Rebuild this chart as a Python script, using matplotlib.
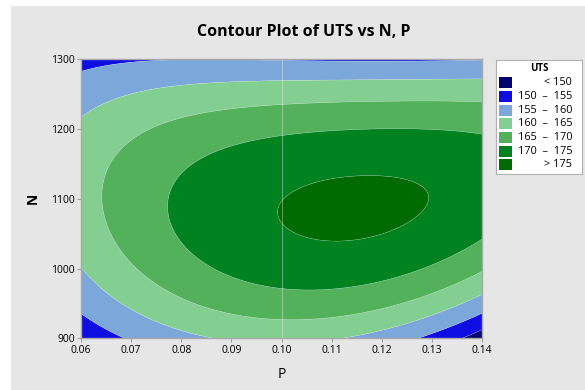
import numpy as np
import matplotlib
matplotlib.use("Agg")
import matplotlib.pyplot as plt
from matplotlib.patches import Rectangle

# Fitted response surface, in coded units
# u = (P - 0.10) / 0.04, v = (N - 1100) / 200
# UTS = height(u) - curvature(u) * (v - center(u))**2, each a polynomial in u (c0, c1, c2)
ridge_height = [175.1, 5.0, -7.0]
ridge_curvature = [17.0, 5.6, -0.65]
ridge_center = [-0.095, 0.021, 0.161]

levels = [150, 155, 160, 165, 170, 175]
legend_labels = ["< 150", "150  \u2013  155", "155  \u2013  160", "160  \u2013  165",
                 "165  \u2013  170", "170  \u2013  175", "> 175"]
colors = ["#04046e", "#0e0ee2", "#7ba7da", "#82cf91", "#53b15c", "#018221", "#006b00"]
p_ticks = [0.06, 0.07, 0.08, 0.09, 0.10, 0.11, 0.12, 0.13, 0.14]
n_ticks = [900, 1000, 1100, 1200, 1300]


def poly(c, u):
    return c[0] + c[1] * u + c[2] * u * u


P = np.linspace(0.06, 0.14, 400)
N = np.linspace(900, 1300, 400)
PP, NN = np.meshgrid(P, N)
U = (PP - 0.10) / 0.04
V = (NN - 1100) / 200
Z = poly(ridge_height, U) - poly(ridge_curvature, U) * (V - poly(ridge_center, U)) ** 2

fig = plt.figure(figsize=(5.85, 3.9), dpi=100)
fig.patch.set_facecolor("white")
bg = fig.add_axes([11 / 585, 0, 1 - 11 / 585, 1 - 6 / 390])
bg.set_facecolor("#e6e6e6")
bg.set_xticks([]); bg.set_yticks([])
for s in bg.spines.values():
    s.set_visible(False)
bg.set_zorder(-10)

font = ["Open Sans", "DejaVu Sans"]

ax = fig.add_axes([81 / 585, 1 - 338.3 / 390, (482 - 81) / 585, (338.3 - 59.3) / 390])
lev = [min(Z.min(), 140) - 1] + levels + [max(Z.max(), 180) + 1]
ax.contourf(PP, NN, Z, levels=lev, colors=colors, antialiased=True)
ax.contour(PP, NN, Z, levels=levels, colors="white", linewidths=0.3, alpha=0.4)
ax.axvline(0.10, color="white", lw=0.8, alpha=0.35)
ax.set_xlim(0.06, 0.14)
ax.set_ylim(900, 1300)
ax.set_xticks(p_ticks)
ax.set_xticklabels([f"{t:.2f}" for t in p_ticks], fontfamily=font, fontsize=7.5)
ax.set_yticks(n_ticks)
ax.set_yticklabels([str(t) for t in n_ticks], fontfamily=font, fontsize=7.5)
ax.tick_params(length=3, width=0.8, color="#a0a0a0", pad=1.5)
for s in ax.spines.values():
    s.set_color("#a8a8a8")
    s.set_linewidth(1.0)
ax.set_xlabel("P", fontfamily=font, fontsize=10, labelpad=8)
ax.set_ylabel("N", fontfamily=font, fontsize=10, fontweight="bold", labelpad=8)

fig.text(304 / 585, 1 - 32 / 390, "Contour Plot of UTS vs N, P", ha="center", va="center",
         fontfamily=font, fontsize=11.5, fontweight="bold")

# legend box
lg = fig.add_axes([496 / 585, 1 - 174 / 390, 86 / 585, 114 / 390])
lg.set_xlim(0, 86); lg.set_ylim(114, 0)
lg.set_facecolor("white")
lg.set_xticks([]); lg.set_yticks([])
for s in lg.spines.values():
    s.set_color("#b0b0b0"); s.set_linewidth(0.8)
lg.text(43, 9, "UTS", ha="center", va="center", fontfamily=font, fontsize=7, fontweight="bold")
for i, (lab, c) in enumerate(zip(legend_labels, colors)):
    y = 22.7 + i * 13.7
    lg.add_patch(Rectangle((3, y - 5.5), 13, 11, facecolor=c, edgecolor="none"))
    lg.text(76, y, lab, ha="right", va="center", fontfamily=font, fontsize=7.8)

fig.savefig("out.png", dpi=100, facecolor=fig.get_facecolor())
